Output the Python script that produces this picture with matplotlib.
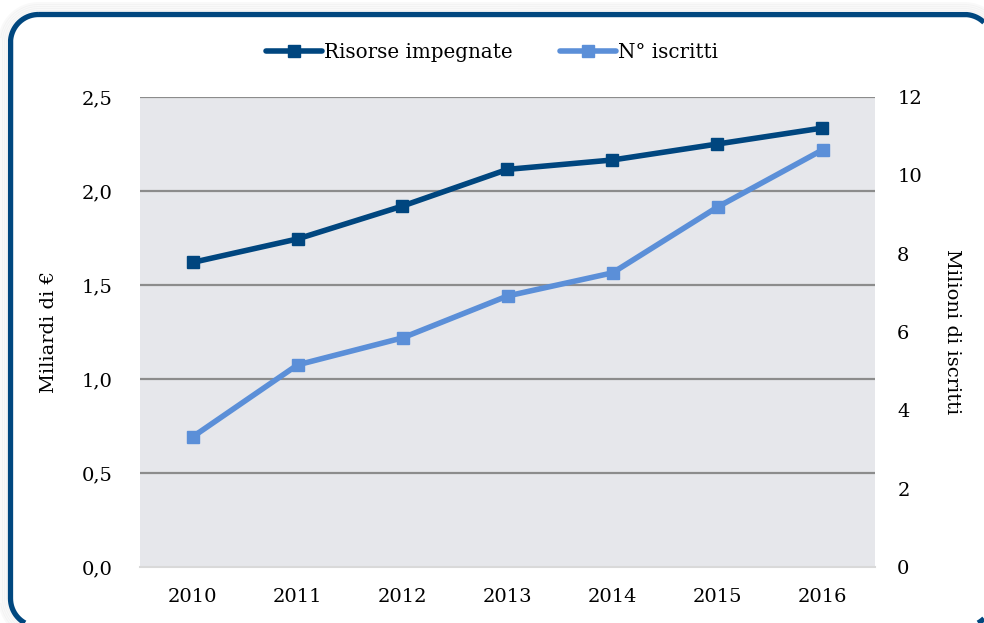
import numpy as np
import matplotlib
matplotlib.use('Agg')
import matplotlib.pyplot as plt
from matplotlib.ticker import FuncFormatter

anni = ['2010', '2011', '2012', '2013', '2014', '2015', '2016']
risorse = [1.62, 1.745, 1.92, 2.115, 2.165, 2.25, 2.335]     # miliardi di euro
iscritti = [3.32, 5.16, 5.85, 6.92, 7.51, 9.19, 10.65]       # milioni

blu_scuro = '#00467f'
blu_chiaro = '#5b8fd8'
bordo = '#00477f'

plt.rcParams['font.family'] = 'DejaVu Serif'
plt.rcParams['font.size'] = 14

W, H = 984, 623


def rettangolo_arrotondato(x0, y0, x1, y1, r, n=1500):
    # contorno del rettangolo, tagliato dove esce dall'immagine
    t = np.linspace(0, 1, n)
    a = np.linspace(0, np.pi / 2, n)
    px, py = [], []
    px += list(x0 + r + t * (x1 - x0 - 2 * r)); py += [y0] * n
    px += list(x1 - r + r * np.sin(a)); py += list(y0 + r - r * np.cos(a))
    px += [x1] * n; py += list(y0 + r + t * (y1 - y0 - 2 * r))
    px += list(x1 - r + r * np.cos(a)); py += list(y1 - r + r * np.sin(a))
    px += list(x1 - r - t * (x1 - x0 - 2 * r)); py += [y1] * n
    px += list(x0 + r - r * np.sin(a)); py += list(y1 - r + r * np.cos(a))
    px += [x0] * n; py += list(y1 - r - t * (y1 - y0 - 2 * r))
    px += list(x0 + r - r * np.cos(a)); py += list(y0 + r - r * np.sin(a))
    px, py = np.array(px), np.array(py)
    fuori = (px < 0) | (px > W) | (py < 0) | (py > H)
    px[fuori] = np.nan
    py[fuori] = np.nan
    return px, py


fig = plt.figure(figsize=(W/100, H/100), dpi=100)

# sfondo in pixel: cornice blu arrotondata con leggera ombra
bg = fig.add_axes([0, 0, 1, 1])
bg.set_xlim(0, W)
bg.set_ylim(H, 0)
bg.axis('off')
x0, y0, x1, y1, r = 10.5, 14.5, 992.5, 626.5, 28
for d in [3, 5, 7, 9, 11]:
    px, py = rettangolo_arrotondato(x0 - d, y0 - d, x1 + d, y1 + d, r + d)
    bg.plot(px, py, color='black', alpha=0.025, lw=2.2)
px, py = rettangolo_arrotondato(x0, y0, x1, y1, r)
bg.plot(px, py, color=bordo, lw=3.8, solid_capstyle='butt')

ax = fig.add_axes([140/W, 1-567/H, 735/W, 470/H])
x = np.arange(len(anni))
ax.set_facecolor('#e6e7eb')
ax.set_xlim(-0.5, 6.5)
ax.set_ylim(0, 2.5)
ax.set_yticks([0, 0.5, 1.0, 1.5, 2.0, 2.5])
ax.yaxis.set_major_formatter(FuncFormatter(lambda v, p: ('%.1f' % v).replace('.', ',')))
ax.set_xticks(x)
ax.set_xticklabels(anni)
for v in [0.5, 1.0, 1.5, 2.0, 2.5]:
    ax.axhline(v, color='#8c8c8c', lw=1.6, zorder=1)
for s in ['left', 'right', 'top']:
    ax.spines[s].set_visible(False)
ax.spines['bottom'].set_color('#d9d9d9')
ax.spines['bottom'].set_linewidth(1.5)
ax.tick_params(length=0)
ax.tick_params(axis='y', pad=20)
ax.tick_params(axis='x', pad=15)
ax.set_ylabel('Miliardi di €', labelpad=17)

ax2 = ax.twinx()
ax2.set_ylim(0, 12)
ax2.set_yticks([0, 2, 4, 6, 8, 10, 12])
for s in ax2.spines.values():
    s.set_visible(False)
ax2.tick_params(length=0, pad=16)
ax2.set_ylabel('Milioni di iscritti', rotation=-90, labelpad=28)

l1, = ax.plot(x, risorse, color=blu_scuro, lw=4, marker='s', ms=9, zorder=5,
              solid_capstyle='round', label='Risorse impegnate')
l2, = ax2.plot(x, iscritti, color=blu_chiaro, lw=4, marker='s', ms=9, zorder=5,
               solid_capstyle='round', label='N° iscritti')

fig.legend([l1, l2], ['Risorse impegnate', 'N° iscritti'], loc='center',
           bbox_to_anchor=(0.5, 1-52/H), ncol=2, frameon=False,
           handlelength=2.8, handletextpad=0.1, columnspacing=2.4, fontsize=14.3)

fig.savefig('out.png', dpi=100)
